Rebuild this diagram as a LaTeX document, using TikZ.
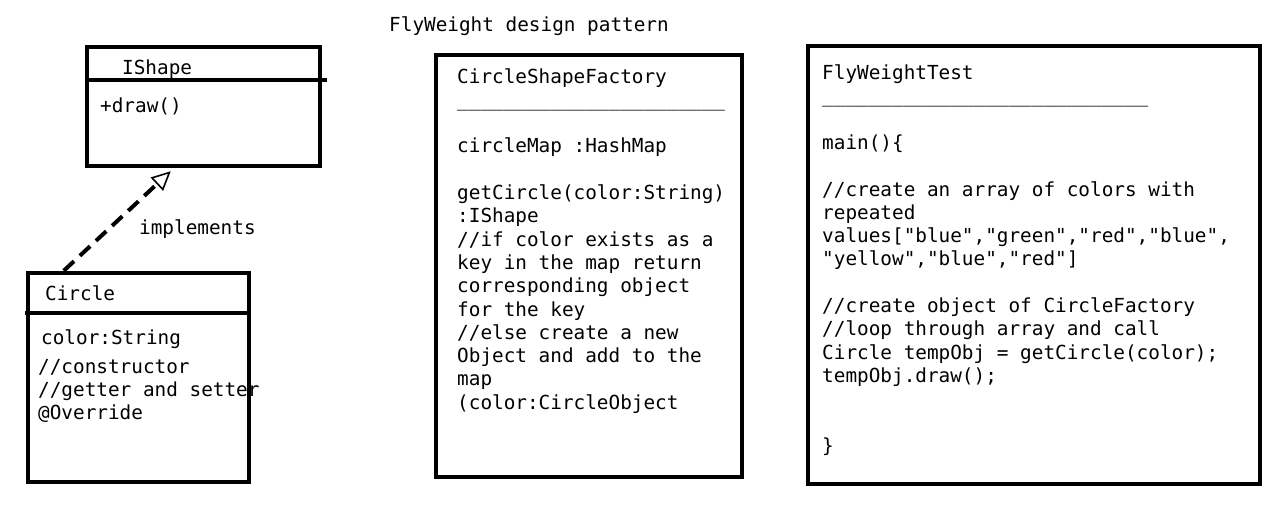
\documentclass[tikz,border=0pt]{standalone}
\usepackage{fontspec}
\setmonofont{DejaVu Sans Mono}
\newfontfamily\codefont{DejaVu Sans Mono}[Ligatures=NoCommon]
\newcommand\codesetup{\codefont\fontsize{19.35}{23.3}\selectfont\frenchspacing}
\newcommand\spacefix{\frenchspacing\spaceskip=11.65pt plus 0pt minus 0pt\relax\xspaceskip=11.65pt plus 0pt minus 0pt\relax}
\usetikzlibrary{arrows.meta}
\begin{document}
\begin{tikzpicture}[x=1pt,y=-1pt,
  boxframe/.style={draw=black, line width=4.5pt, inner sep=0pt, fill=none},
  divider/.style={draw=black, line width=4pt},
  codetext/.style={inner sep=0pt, anchor=base west, text width=440pt, align=left,
    font=\codesetup, text=black, execute at begin node=\spacefix},
  implarrow/.style={draw=black, line width=4pt, dash pattern=on 14pt off 8pt,
    -{Triangle[open, length=19pt, width=18pt, line width=1.6pt]}}
]
\useasboundingbox (0,0) rectangle (1280,515);
\fill[white] (0,0) rectangle (1280,515);

% title
\node[codetext] (title) at (389,31) {FlyWeight design pattern};

% IShape
\node[boxframe, minimum width=233pt, minimum height=119pt] (ishape) at (203.5,106.5) {};
\draw[divider] (ishape.west |- 0,80) -- (327,80);
\node[codetext] (ishapename) at (122,74.5) {IShape};
\node[codetext] (ishapeop) at (100,112) {+draw()};

% Circle
\node[boxframe, minimum width=221pt, minimum height=209pt] (circle) at (138.5,377.5) {};
\draw[divider] (25,313) -- (circle.east |- 0,313);
\node[codetext] (circlename) at (45,300) {Circle};
\node[codetext] (circleattr) at (41,344) {color:String};
\node[codetext] (circleops) at (38,373) {//constructor\\//getter and setter\\@Override};

% implements
\draw[implarrow] ([xshift=38pt]circle.north west) -- ([xshift=86pt,yshift=-3pt]ishape.south west);
\node[codetext] (impl) at (139,234) {implements};

% Factory
\node[boxframe, minimum width=306pt, minimum height=422pt] (factory) at (589,266) {};
\node[codetext] (factorytext) at (457,83) {CircleShapeFactory\\
\_\_\_\_\_\_\_\_\_\_\_\_\_\_\_\_\_\_\_\_\_\_\_\\
\mbox{}\\
circleMap :HashMap\\
\mbox{}\\
getCircle(color:String)\\
:IShape\\
//if color exists as a\\
key in the map return\\
corresponding object\\
for the key\\
//else create a new\\
Object and add to the\\
map\\
(color:CircleObject};

% Test
\node[boxframe, minimum width=452pt, minimum height=438pt] (test) at (1034,265) {};
\node[codetext] (testtext) at (822,79.5) {FlyWeightTest\\
\_\_\_\_\_\_\_\_\_\_\_\_\_\_\_\_\_\_\_\_\_\_\_\_\_\_\_\_\\
\mbox{}\\
main()\{\\
\mbox{}\\
//create an array of colors with\\
repeated\\
values["blue","green","red","blue",\\
"yellow","blue","red"]\\
\mbox{}\\
//create object of CircleFactory\\
//loop through array and call\\
Circle tempObj = getCircle(color);\\
tempObj.draw();\\
\mbox{}\\
\mbox{}\\
\}};
\end{tikzpicture}
\end{document}
